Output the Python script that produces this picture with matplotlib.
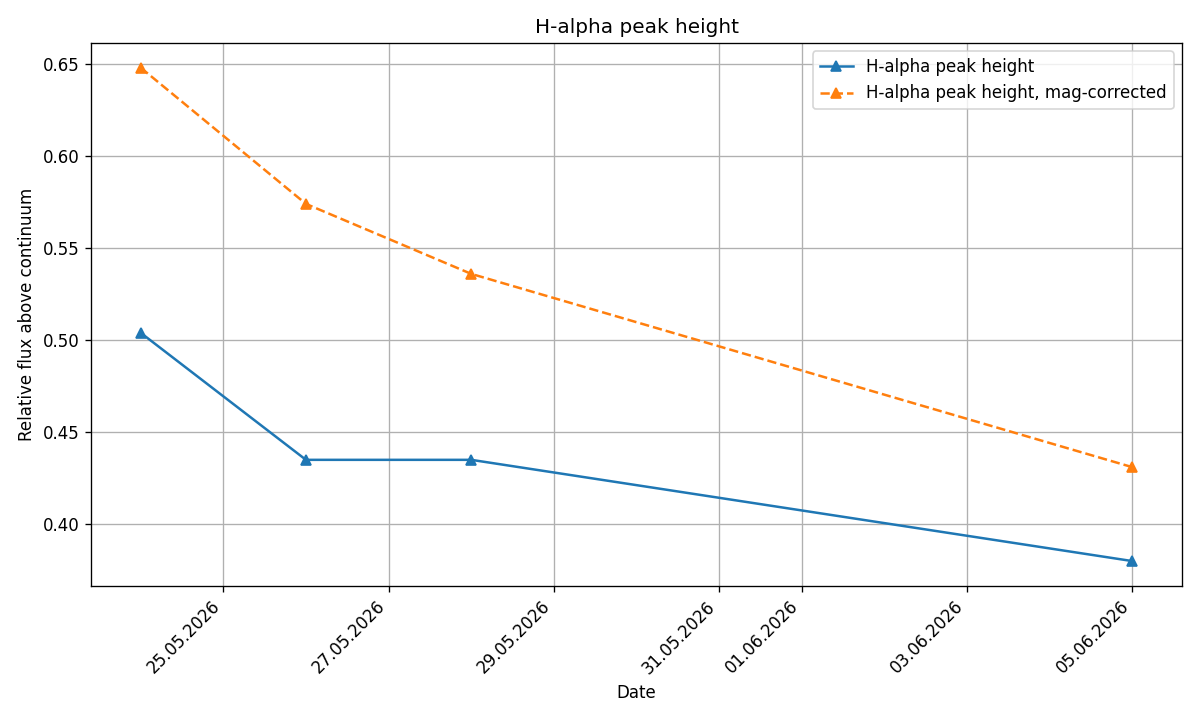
import datetime as dt
import matplotlib
matplotlib.use("Agg")
import matplotlib.pyplot as plt
import matplotlib.dates as mdates

dates = ["24.05.2026", "26.05.2026", "28.05.2026", "05.06.2026"]
peak_height = [0.504, 0.435, 0.435, 0.380]
peak_height_corr = [0.648, 0.574, 0.536, 0.431]

x = [dt.datetime.strptime(d, "%d.%m.%Y") for d in dates]

fig, ax = plt.subplots(figsize=(10, 6), dpi=120)
ax.plot(x, peak_height, marker="^", linestyle="-", label="H-alpha peak height")
ax.plot(x, peak_height_corr, marker="^", linestyle="--",
        label="H-alpha peak height, mag-corrected")

ax.set_title("H-alpha peak height")
ax.set_xlabel("Date")
ax.set_ylabel("Relative flux above continuum")
ax.grid(True)
ax.legend(loc="upper right")

ax.xaxis.set_major_locator(mdates.AutoDateLocator())
ax.xaxis.set_major_formatter(mdates.DateFormatter("%d.%m.%Y"))
plt.setp(ax.get_xticklabels(), rotation=45, ha="right")

fig.tight_layout()
fig.savefig("out.png")
